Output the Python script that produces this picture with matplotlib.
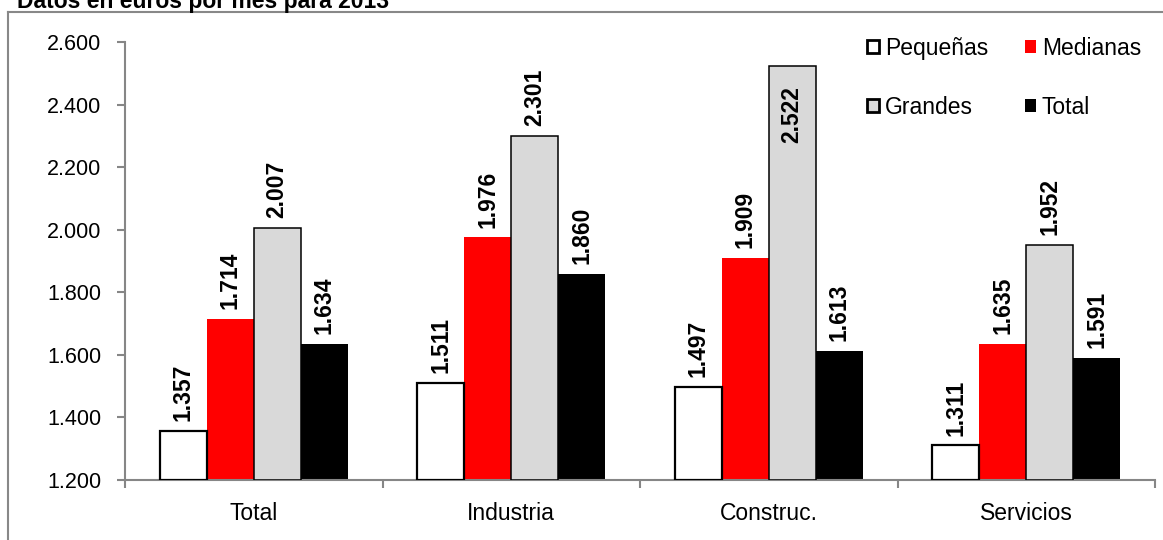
import matplotlib
matplotlib.use("Agg")
import matplotlib.pyplot as plt
from matplotlib.lines import Line2D
from matplotlib.patches import Patch
import numpy as np

plt.rcParams['font.family'] = ['Liberation Sans', 'DejaVu Sans']

categories = ["Total", "Industria", "Construc.", "Servicios"]
series_names = ["Pequeñas", "Medianas", "Grandes", "Total"]
pequenas = [1357, 1511, 1497, 1311]
medianas = [1714, 1976, 1909, 1635]
grandes = [2007, 2301, 2522, 1952]
total = [1634, 1860, 1613, 1591]
y_ticks = [1200, 1400, 1600, 1800, 2000, 2200, 2400, 2600]
title = "Datos en euros por mes para 2013"

series = [pequenas, medianas, grandes, total]
faces = ["white", "#ff0000", "#d9d9d9", "black"]
edges = ["black", "none", "black", "none"]
lws = [1.6, 0, 1.1, 0]

W, H = 1163, 540
fig = plt.figure(figsize=(W / 100, H / 100), dpi=100)
ax = fig.add_axes([125 / W, 1 - 480 / H, (1155 - 125) / W, (480 - 42) / H])

x = np.arange(len(categories))
bw = 0.1825
ymin, ymax = 1200, 2600
for i, (vals, fc, ec, lw) in enumerate(zip(series, faces, edges, lws)):
    xs = x + (i - 1.5) * bw
    ax.bar(xs, np.array(vals) - ymin, bottom=ymin, width=bw, color=fc,
           edgecolor=ec, linewidth=lw, zorder=3 if ec != "none" else 2)
    for xi, v in zip(xs, vals):
        lab = f"{v:,}".replace(",", ".")
        if v > 2450:
            ax.annotate(lab, (xi, v), xytext=(0, -14), textcoords="offset points",
                        rotation=90, ha="center", va="top", fontsize=16.5,
                        fontweight="bold", zorder=5)
        else:
            ax.annotate(lab, (xi, v), xytext=(0, 7), textcoords="offset points",
                        rotation=90, ha="center", va="bottom", fontsize=16.5,
                        fontweight="bold", zorder=5)

ax.set_xlim(-0.5, len(categories) - 0.5)
ax.set_ylim(ymin, ymax)
ax.set_yticks(y_ticks)
ax.set_yticklabels([f"{v:,}".replace(",", ".") for v in y_ticks], fontsize=15.5)
ax.set_xticks(x)
ax.set_xticklabels(categories, fontsize=16.5)
ax.set_xticks(np.arange(len(categories) + 1) - 0.5, minor=True)
ax.tick_params(axis="x", which="major", length=0, pad=16)
ax.tick_params(axis="x", which="minor", length=6, width=1.5, color="#868686")
ax.tick_params(axis="y", length=6, width=1.5, color="#868686", pad=11)
for s in ["top", "right"]:
    ax.spines[s].set_visible(False)
for s in ["left", "bottom"]:
    ax.spines[s].set_color("#868686")
    ax.spines[s].set_linewidth(1.5)

handles = [Patch(facecolor=fc, edgecolor=("black" if ec != "none" else fc),
                 linewidth=(2 if ec != "none" else 0)) for fc, ec in zip(faces, edges)]
order = [0, 2, 1, 3]
leg = ax.legend([handles[k] for k in order], [series_names[k] for k in order], ncol=2,
                loc="upper right",
                bbox_to_anchor=(1141 / W, 1 - 37 / H), bbox_transform=fig.transFigure,
                frameon=False, fontsize=16.5, handlelength=0.5, handleheight=0.5,
                handletextpad=0.25, columnspacing=1.6, labelspacing=1.55,
                borderaxespad=0, borderpad=0)

# outer frame
fig.add_artist(Line2D([8 / W, 8 / W], [0, 1 - 12 / H], transform=fig.transFigure,
                      color="#888888", linewidth=1.5))
fig.add_artist(Line2D([8 / W, 1], [1 - 12 / H, 1 - 12 / H], transform=fig.transFigure,
                      color="#888888", linewidth=1.5))
fig.text(17 / W, 1 - 8 / H, title, fontsize=16.5, fontweight="bold", ha="left", va="baseline")

fig.savefig("out.png", dpi=100)
